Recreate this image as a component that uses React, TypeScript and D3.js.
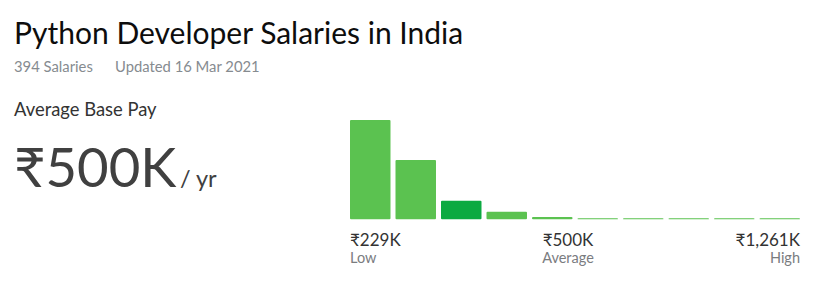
import React from "react";
import * as d3 from "d3";

const bins = ["b1", "b2", "b3", "b4", "b5", "b6", "b7", "b8", "b9", "b10"];
const counts = [209, 125, 39, 16, 5, 0, 0, 0, 0, 0];
const highlightIndex = 2;
const title = "Python Developer Salaries in India";
const salariesText = "394 Salaries";
const updatedText = "Updated 16 Mar 2021";
const payLabel = "Average Base Pay";
const avgPay = "₹500K";
const perYear = "/ yr";
const rangeLabels = [
  { value: "₹229K", name: "Low" },
  { value: "₹500K", name: "Average" },
  { value: "₹1,261K", name: "High" },
];

const W = 835;
const H = 283;
const FONT = "Lato, 'Noto Sans', sans-serif";

export default function App() {
  const x = d3
    .scaleBand<string>()
    .domain(bins)
    .range([350, 800])
    .paddingInner(0.11)
    .paddingOuter(0);
  const y = d3
    .scaleLinear()
    .domain([0, d3.max(counts) as number])
    .range([219.3, 120]);

  return (
    <svg
      width={W}
      height={H}
      style={{ position: "absolute", left: 0, top: 0, background: "#fff" }}
      fontFamily={FONT}
    >
      <text x={14} y={44} fontSize={30} fill="#0d0d0d">
        {title}
      </text>
      <text x={14} y={71.5} fontSize={14.8} fill="#868b90">
        {salariesText}
      </text>
      <text x={115} y={71.5} fontSize={14.8} fill="#868b90">
        {updatedText}
      </text>
      <text x={14} y={116} fontSize={18.4} fill="#333">
        {payLabel}
      </text>
      <text x={14} y={187} fontSize={54.5} fill="#404040">
        {avgPay}
        <tspan dx={3.5} fontSize={23.5}>
          {perYear}
        </tspan>
      </text>
      {counts.map((c, i) => {
        const top = Math.min(y(c), y(0) - 1);
        return (
          <rect
            key={bins[i]}
            x={x(bins[i])}
            y={top}
            width={x.bandwidth()}
            height={y(0) - top}
            rx={1}
            fill={i === highlightIndex ? "#0caa41" : "#5bc250"}
          />
        );
      })}
      <text x={350} y={245.5} fontSize={17} fill="#333">
        {rangeLabels[0].value}
      </text>
      <text x={350} y={262.5} fontSize={14.5} fill="#7a7c7f">
        {rangeLabels[0].name}
      </text>
      <text x={568} y={245.5} fontSize={17} fill="#333" textAnchor="middle">
        {rangeLabels[1].value}
      </text>
      <text x={568} y={262.5} fontSize={14.5} fill="#7a7c7f" textAnchor="middle">
        {rangeLabels[1].name}
      </text>
      <text x={800} y={245.5} fontSize={17} fill="#333" textAnchor="end">
        {rangeLabels[2].value}
      </text>
      <text x={800} y={262.5} fontSize={14.5} fill="#7a7c7f" textAnchor="end">
        {rangeLabels[2].name}
      </text>
    </svg>
  );
}
